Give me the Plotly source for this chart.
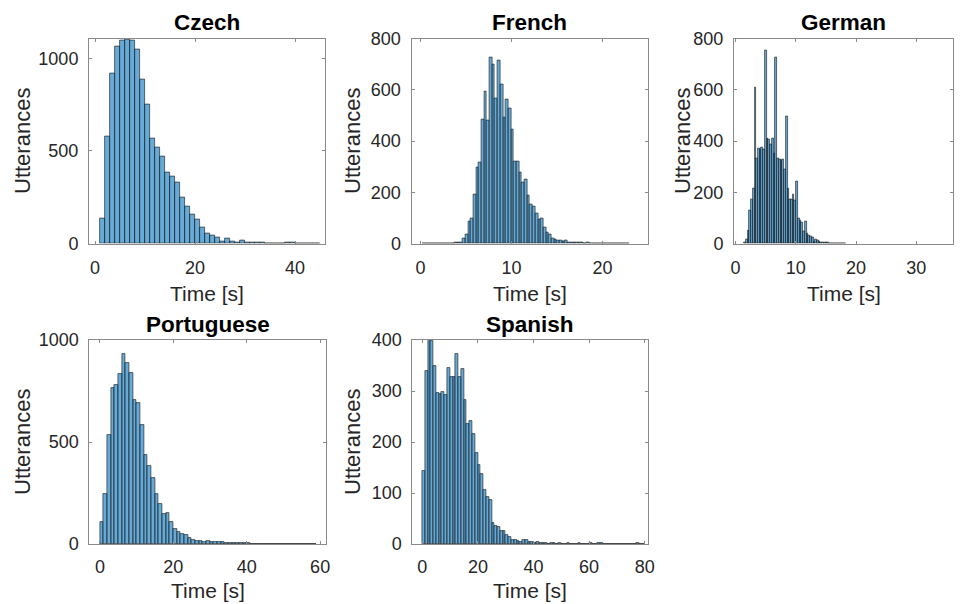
import plotly.graph_objects as go

# ---------------- data ----------------
titles = ["Czech", "French", "German", "Portuguese", "Spanish"]

czech_bin_start = 1.0
czech_bin_width = 1.0
czech_counts = [135, 577, 919, 1063, 1095, 1103, 1097, 1049, 883, 748,
                566, 519, 468, 384, 364, 331, 249, 200, 157, 132,
                85, 54, 45, 32, 13, 25, 13, 4, 14, 4,
                7, 4, 5, 2, 2, 1, 2, 5, 5, 1, 1, 0, 1, 1]

french_bin_start = 0.18
french_bin_width = 0.296
french_counts = [1, 0, 0, 1, 0, 1, 0, 1, 1, 0, 1, 1, 2,
                 3, 5, 20, 37, 85, 98, 193, 296, 317, 483,
                 592, 479, 724, 697, 565, 716, 620, 491, 562, 526,
                 446, 320, 321, 278, 237, 248, 189, 153, 144, 117,
                 94, 99, 63, 42, 37, 21, 16, 13, 12, 8,
                 10, 5, 3, 5, 3,
                 2, 2, 1, 2, 1, 1, 1, 0, 1, 1, 0, 0, 1, 0, 1, 0, 0, 0, 1]

german_bin_start = 1.43
german_bin_width = 0.288
german_counts = [5, 16, 52, 130, 173, 213, 609, 331, 372, 365,
                 376, 365, 753, 410, 407, 385, 410, 352, 724, 333,
                 329, 324, 326, 287, 496, 215, 172, 170, 193, 167,
                 241, 98, 91, 81, 46, 85, 39, 33, 26, 23,
                 9, 16, 13, 6, 5, 4, 3, 2, 2, 1, 1, 1, 0, 1, 0, 1, 0, 0, 1]

portuguese_bin_start = 0.0
portuguese_bin_width = 1.0
portuguese_counts = [107, 246, 533, 763, 780, 834, 933, 889, 839, 705,
                     692, 584, 434, 380, 323, 244, 196, 148, 151, 110,
                     76, 60, 48, 43, 31, 22, 17, 13, 11, 13,
                     10, 9, 8, 8, 7, 6, 4, 5, 3, 3,
                     4, 2, 2, 1, 1, 1, 0, 1, 1, 0,
                     1, 0, 0, 1, 0, 0, 1, 0, 1]

spanish_bin_start = 0.0
spanish_bin_width = 1.0
spanish_counts = [144, 339, 402, 398, 350, 296, 294, 299, 292, 346,
                  328, 328, 373, 327, 344, 283, 235, 241, 216, 178,
                  155, 138, 106, 92, 87, 42, 36, 34, 26, 25,
                  18, 13, 8, 8, 6, 4, 8, 7, 3, 3,
                  2, 3, 2, 1, 1, 0, 1, 1, 0, 1,
                  0, 0, 1, 0, 0, 0, 1, 0, 0, 0,
                  1, 0, 0, 1, 1, 0, 0, 0, 0, 0,
                  0, 0, 0, 0, 0, 0, 0, 1, 0, 0]

x_tick_values = [[0, 20, 40], [0, 10, 20], [0, 10, 20, 30],
                 [0, 20, 40, 60], [0, 20, 40, 60, 80]]
y_tick_values = [[0, 500, 1000], [0, 200, 400, 600, 800], [0, 200, 400, 600, 800],
                 [0, 500, 1000], [0, 100, 200, 300, 400]]

x_label = "Time [s]"
y_label = "Utterances"

# ---------------- layout geometry ----------------
W, H = 960, 604
series = [
    (czech_counts, czech_bin_start, czech_bin_width),
    (french_counts, french_bin_start, french_bin_width),
    (german_counts, german_bin_start, german_bin_width),
    (portuguese_counts, portuguese_bin_start, portuguese_bin_width),
    (spanish_counts, spanish_bin_start, spanish_bin_width),
]
# pixel boxes: left, right, top, bottom
boxes = [
    (89, 325, 38.5, 243.5),
    (411.5, 648, 38.5, 243.5),
    (734, 953, 38.5, 243.5),
    (89.3, 326, 340, 544),
    (412.3, 648.3, 340, 544),
]
x_ranges = [[-1.2, 46], [-1, 25], [-0.25, 36.1], [-2.9, 61.6], [-3.6, 81.3]]
y_ranges = [[0, 1107], [0, 800], [0, 800], [0, 1000], [0, 400]]
ylabel_x = [22, 352, 682, 22, 352]
xlabel_y = [293, 293, 293, 590, 590]
xtick_standoff = [8, 8, 8, 6, 6]

BAR_FILL = "rgba(0,114,189,0.6)"
BAR_EDGE = "rgba(30,30,30,0.8)"
AXIS_COLOR = "#8a8a8a"
TEXT_COLOR = "#262626"
FONT = "Liberation Sans, Arial, Helvetica, sans-serif"

fig = go.Figure()
annotations = []

for i, ((counts, start, width), box) in enumerate(zip(series, boxes)):
    n = i + 1
    xa = "x" if n == 1 else f"x{n}"
    ya = "y" if n == 1 else f"y{n}"
    centers = [start + (k + 0.5) * width for k in range(len(counts))]
    fig.add_trace(go.Bar(
        x=centers, y=counts, width=[width] * len(counts),
        marker=dict(color=BAR_FILL, line=dict(color=BAR_EDGE, width=0.8)),
        xaxis=xa, yaxis=ya, showlegend=False, hoverinfo="x+y",
    ))
    l, r, t, b = box
    xd = [l / W, r / W]
    yd = [1 - b / H, 1 - t / H]
    common = dict(showgrid=False, zeroline=False, showline=True, mirror="ticks",
                  linecolor=AXIS_COLOR, linewidth=1, ticks="inside", ticklen=3,
                  tickcolor=AXIS_COLOR, automargin=False,
                  tickfont=dict(size=18, color=TEXT_COLOR, family=FONT))
    fig.layout[("xaxis" if n == 1 else f"xaxis{n}")] = dict(
        domain=xd, range=x_ranges[i], tickvals=x_tick_values[i], anchor=ya,
        ticklabelstandoff=xtick_standoff[i], **common)
    fig.layout[("yaxis" if n == 1 else f"yaxis{n}")] = dict(
        domain=yd, range=y_ranges[i], tickvals=y_tick_values[i], anchor=xa,
        ticklabelstandoff=6, **common)

    cx = (l + r) / 2
    # title
    annotations.append(dict(text=f"<b>{titles[i]}</b>", x=cx / W, y=1 - (t - 16) / H,
                            xref="paper", yref="paper", xanchor="center", yanchor="middle",
                            showarrow=False, font=dict(size=22.5, color="black", family=FONT)))
    # x label
    annotations.append(dict(text=x_label, x=cx / W, y=1 - xlabel_y[i] / H,
                            xref="paper", yref="paper", xanchor="center", yanchor="middle",
                            showarrow=False, borderpad=0,
                            font=dict(size=21, color=TEXT_COLOR, family=FONT)))
    # y label
    annotations.append(dict(text=y_label, x=ylabel_x[i] / W, y=1 - ((t + b) / 2) / H,
                            xref="paper", yref="paper", xanchor="center", yanchor="middle",
                            textangle=-90, showarrow=False,
                            font=dict(size=22, color=TEXT_COLOR, family=FONT)))

fig.update_layout(
    width=W, height=H, margin=dict(l=0, r=0, t=0, b=0, autoexpand=False),
    paper_bgcolor="white", plot_bgcolor="white",
    bargap=0, annotations=annotations, font=dict(family=FONT, color=TEXT_COLOR),
)

fig.write_html(
    "out.html",
    config={"displayModeBar": False},
    post_script="document.body.style.margin='0';document.body.style.overflow='hidden';",
)
